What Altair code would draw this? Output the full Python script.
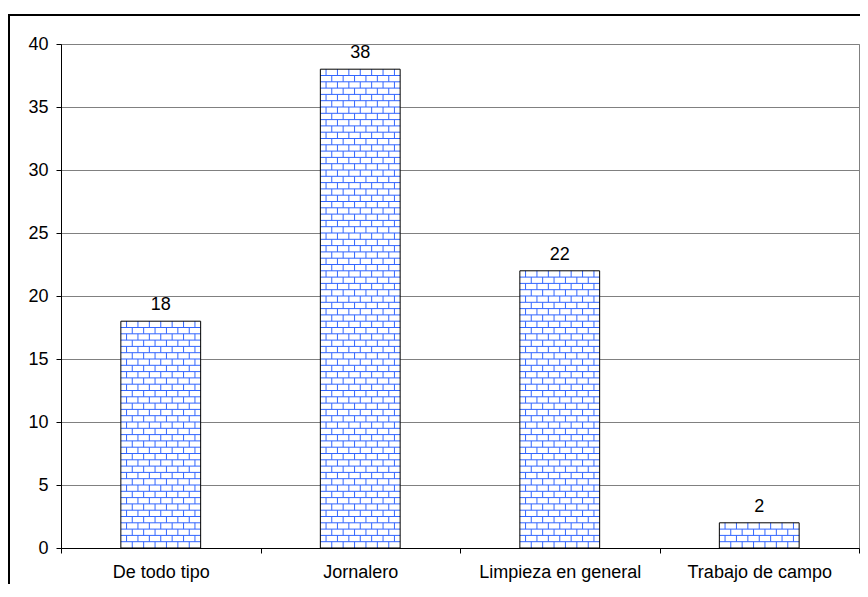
import json
import altair as alt
import pandas as pd

# ---- data ----
categories = ["De todo tipo", "Jornalero", "Limpieza en general", "Trabajo de campo"]
counts = [18, 38, 22, 2]
y_tick_values = [0, 5, 10, 15, 20, 25, 30, 35, 40]

# ---- style constants ----
FONT = "Liberation Sans"
FS = 18
BLUE = "#3366ff"
GRID = "#808080"
BAR_FROM, BAR_TO = 0.3, 0.7      # bar extent inside each category band
ROW = 0.5                         # brick row height (value units)
BRICK = (BAR_TO - BAR_FROM) / 7   # brick width (band units)

bars = pd.DataFrame({"cat": categories, "value": counts, "idx": range(len(categories))})
bars["x0"] = bars["idx"] + BAR_FROM
bars["x1"] = bars["idx"] + BAR_TO
bars["xc"] = bars["idx"] + 0.5

# brick pattern derived from the bars
hrows, vrows = [], []
for _, b in bars.iterrows():
    r = 0
    while r * ROW < b["value"] - 1e-9:
        y0 = r * ROW
        y1 = min((r + 1) * ROW, b["value"])
        if r > 0:
            hrows.append({"x0": b["x0"], "x1": b["x1"], "y": y0})
        j = 0
        while True:
            x = b["x0"] + (j + 0.5 * (r % 2)) * BRICK
            if x >= b["x1"] - 1e-9:
                break
            if x > b["x0"] + 1e-9:
                vrows.append({"x": x, "y0": y0, "y1": y1})
            j += 1
        r += 1
hlines = pd.DataFrame(hrows)
vlines = pd.DataFrame(vrows)
frame_df = pd.DataFrame({"k": [0]})

xscale = alt.Scale(domain=[0, len(categories)], nice=False, zero=False)
yscale = alt.Scale(domain=[0, 40], nice=False)

label_expr = ("(datum.value % 1 == 0.5) ? " + json.dumps(categories) +
              "[floor(datum.value)] : ''")
xaxis = alt.Axis(
    values=[i * 0.5 for i in range(2 * len(categories) + 1)],
    labelExpr=label_expr,
    tickOpacity={"condition": {"test": "datum.value % 1 == 0", "value": 1}, "value": 0},
    tickSize=5, tickColor="black", domainColor="black",
    labelPadding=10, labelOverlap=False, labelFlush=False, grid=False, title=None,
)
yaxis = alt.Axis(
    values=y_tick_values, grid=True, gridColor=GRID, gridWidth=1,
    tickSize=5, tickColor="black", domainColor="black",
    labelPadding=8, title=None,
)

frame = alt.Chart(frame_df).mark_rect(
    fillOpacity=0, stroke="black", strokeWidth=2
).encode(
    x=alt.value(-52), x2=alt.value(830), y=alt.value(-29), y2=alt.value(600)
)

fill = alt.Chart(bars).mark_rect(fill="white").encode(
    x=alt.X("x0:Q", scale=xscale, axis=xaxis, title=None),
    x2="x1",
    y=alt.Y("value:Q", scale=yscale, axis=yaxis, title=None),
    y2=alt.datum(0),
)

hpat = alt.Chart(hlines).mark_rule(color=BLUE, strokeWidth=1).encode(
    x=alt.X("x0:Q", title=None), x2="x1", y=alt.Y("y:Q", title=None)
)
vpat = alt.Chart(vlines).mark_rule(color=BLUE, strokeWidth=1).encode(
    x=alt.X("x:Q", title=None), y=alt.Y("y0:Q", title=None), y2="y1"
)

outline = alt.Chart(bars).mark_rect(
    fillOpacity=0, stroke="black", strokeWidth=1
).encode(
    x=alt.X("x0:Q", title=None), x2="x1",
    y=alt.Y("value:Q", title=None), y2=alt.datum(0),
)

labels = alt.Chart(bars).mark_text(
    font=FONT, fontSize=FS, color="black", baseline="alphabetic", dy=-11
).encode(
    x=alt.X("xc:Q", title=None), y=alt.Y("value:Q", title=None), text="value:Q"
)

chart = alt.layer(frame, fill, hpat, vpat, outline, labels).properties(
    width=798, height=504,
    autosize="none",
    padding={"left": 53, "top": 36, "right": 1, "bottom": 36},
).configure_view(
    stroke=GRID, strokeWidth=1
).configure_axis(
    labelFont=FONT, labelFontSize=FS, labelColor="black"
)

chart.save("out.html", embed_options={"renderer": "svg", "actions": False})
